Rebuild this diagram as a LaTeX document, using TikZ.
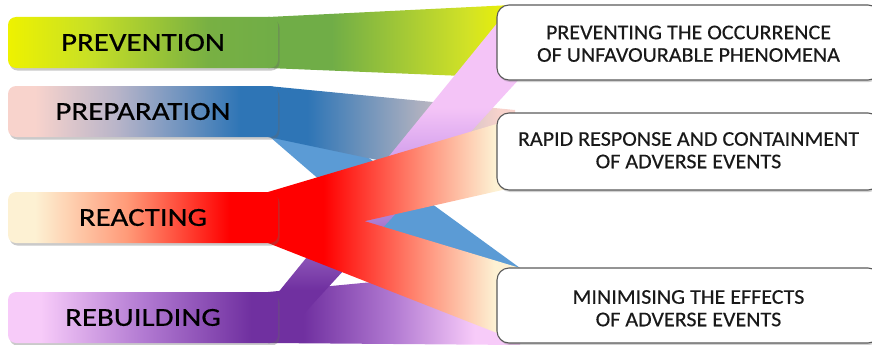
\documentclass[tikz,border=0pt]{standalone}
\usepackage{fontspec}
\setmainfont{Carlito}
\newfontfamily\phasefont{Carlito}[FakeBold=0.45]
\newfontfamily\goalfont{Carlito}[FakeBold=0.3]
\usetikzlibrary{shadows,calc}

\definecolor{cGreen}{HTML}{70AD47}
\definecolor{cYellow}{HTML}{EEF200}
\definecolor{cYG}{HTML}{C8E025}
\definecolor{cYG2}{HTML}{78B043}
\definecolor{cYG3}{HTML}{D2E226}
\definecolor{cBlue}{HTML}{2E75B6}
\definecolor{cLBlue}{HTML}{5B9BD5}
\definecolor{cPeach}{HTML}{F8D3CC}
\definecolor{cMauve}{HTML}{B9B5C9}
\definecolor{cGray}{HTML}{A9AEBF}
\definecolor{cRed}{HTML}{FF0000}
\definecolor{cSalmon}{HTML}{FF9A78}
\definecolor{cSalmon2}{HTML}{FF8A74}
\definecolor{cCream}{HTML}{FDF1D3}
\definecolor{cPurple}{HTML}{7030A0}
\definecolor{cLav}{HTML}{B27AD2}
\definecolor{cLav2}{HTML}{AE80D4}
\definecolor{cLav3}{HTML}{D29EEC}
\definecolor{cPink}{HTML}{F7CBF9}
\definecolor{cPinkD}{HTML}{F4C4F7}
\definecolor{cBorder}{HTML}{5A5A5A}

% left boxes
\pgfdeclarehorizontalshading{shPrev}{100bp}{color(0bp)=(cYellow); color(25bp)=(cYellow); color(40bp)=(cYG); color(62bp)=(cYG2); color(75bp)=(cGreen); color(100bp)=(cGreen)}
\pgfdeclarehorizontalshading{shPrep}{100bp}{color(0bp)=(cPeach); color(25bp)=(cPeach); color(30bp)=(cPeach); color(45bp)=(cMauve); color(68bp)=(cBlue); color(100bp)=(cBlue)}
\pgfdeclarehorizontalshading{shReac}{100bp}{color(0bp)=(cCream); color(25bp)=(cCream); color(30bp)=(cCream); color(47bp)=(cSalmon); color(66bp)=(cRed); color(100bp)=(cRed)}
\pgfdeclarehorizontalshading{shRebu}{100bp}{color(0bp)=(cPink); color(25bp)=(cPink); color(31bp)=(cPink); color(50bp)=(cLav); color(70bp)=(cPurple); color(100bp)=(cPurple)}
% ribbons
\pgfdeclarehorizontalshading{shGreenR}{100bp}{color(0bp)=(cGreen); color(25bp)=(cGreen); color(38bp)=(cGreen); color(66bp)=(cYG3); color(75bp)=(cYellow); color(100bp)=(cYellow)}
\pgfdeclarehorizontalshading{shPrepR}{100bp}{color(0bp)=(cBlue); color(25bp)=(cBlue); color(33bp)=(cBlue); color(55bp)=(cGray); color(72bp)=(cPeach); color(100bp)=(cPeach)}
\pgfdeclarehorizontalshading{shRedR}{100bp}{color(0bp)=(cRed); color(25bp)=(cRed); color(36bp)=(cRed); color(55bp)=(cSalmon2); color(70bp)=(cCream); color(100bp)=(cCream)}
\pgfdeclarehorizontalshading{shPurpR}{100bp}{color(0bp)=(cPurple); color(25bp)=(cPurple); color(32bp)=(cPurple); color(50bp)=(cLav); color(66bp)=(cPink); color(100bp)=(cPink)}
\pgfdeclareverticalshading{shDiag}{100bp}{color(0bp)=(cPurple); color(25bp)=(cPurple); color(33bp)=(cPurple); color(44bp)=(cLav2); color(53bp)=(cLav3); color(61bp)=(cPinkD); color(100bp)=(cPinkD)}

\newcommand{\lefttxt}[1]{\scalebox{1.19}[1]{#1}}
\newcommand{\righttxt}[2]{\scalebox{1.05}[1]{\begin{tabular}{@{}c@{}}#1\\#2\end{tabular}}}

\begin{document}
\begin{tikzpicture}[x=1pt,y=-1pt,
  phase/.style={rounded corners=8pt, minimum width=270pt, minimum height=51pt,
    inner sep=0pt, font=\phasefont\fontsize{26}{28}\selectfont, text=black,
    drop shadow={shadow xshift=1.5pt, shadow yshift=-2.5pt, opacity=0.35, fill=black!60}},
  goal/.style={rounded corners=12pt, minimum width=383pt, inner sep=0pt,
    fill=white, draw=cBorder, line width=1.1pt,
    drop shadow={shadow xshift=1pt, shadow yshift=-2pt, opacity=0.3, fill=black!60}},
  goaltext/.style={inner sep=0pt, font=\goalfont\fontsize{21}{22.5}\selectfont, text=black!90},
  ribbon/.style={draw=none}
]
\useasboundingbox (0,0) rectangle (872,345);

% ribbon end points at the right boxes
\coordinate (g1) at (512,5);   \coordinate (g2) at (512,78);
\coordinate (p1) at (515,110); \coordinate (p2) at (515,189);
\coordinate (q1) at (520,268); \coordinate (q2) at (505,340);
\coordinate (u1) at (520,268); \coordinate (u2) at (520,345);
\coordinate (d1) at (503,16);  \coordinate (d2) at (522,76);
\coordinate (r1) at (520,268); \coordinate (r2) at (520,342);
\coordinate (s1) at (520,117); \coordinate (s2) at (520,186);

% ribbons (behind the boxes)
\path[ribbon, shading=shGreenR] (268,17) -- (g1) -- (g2) -- (268,68) -- cycle;
\path[ribbon, fill=cLBlue] (270,86) -- (q1) -- (q2) -- (270,137) -- cycle;
\path[ribbon, shading=shPrepR] (268,86) -- (p1) -- (p2) -- (268,137) -- cycle;
\path[ribbon, shading=shPurpR] (268,292) -- (u1) -- (u2) -- (268,343) -- cycle;
\path[ribbon, shading=shDiag] (272,300) -- (d1) -- (d2) -- (278,342) -- (272,342) -- cycle;
\path[ribbon, shading=shRedR] (268,192) -- (r1) -- (r2) -- (268,243) -- cycle;
\path[ribbon, shading=shRedR] (268,192) -- (s1) -- (s2) -- (268,243) -- cycle;

% left phase boxes
\node[phase, shading=shPrev] (prev) at (143,42.5) {\lefttxt{PREVENTION}};
\node[phase, shading=shPrep] (prep) at (143,111.5) {\lefttxt{PREPARATION}};
\node[phase, shading=shReac] (reac) at (143,217.5) {\lefttxt{REACTING}};
\node[phase, shading=shRebu] (rebu) at (143,317.5) {\lefttxt{REBUILDING}};

% right goal boxes
\node[goal, minimum height=75pt] (b1) at (688.5,42.5) {};
\node[goal, minimum height=77pt] (b2) at (688.5,151.5) {};
\node[goal, minimum height=75pt] (b3) at (688.5,305.5) {};
\node[goaltext] (t1) at ($(b1.center)+(0,3.5)$)
  {\righttxt{PREVENTING THE OCCURRENCE}{OF UNFAVOURABLE PHENOMENA}};
\node[goaltext] (t2) at ($(b2.center)+(0,1)$)
  {\righttxt{RAPID RESPONSE AND CONTAINMENT}{OF ADVERSE EVENTS}};
\node[goaltext] (t3) at ($(b3.center)+(0,5)$)
  {\righttxt{MINIMISING THE EFFECTS}{OF ADVERSE EVENTS}};
\end{tikzpicture}
\end{document}
